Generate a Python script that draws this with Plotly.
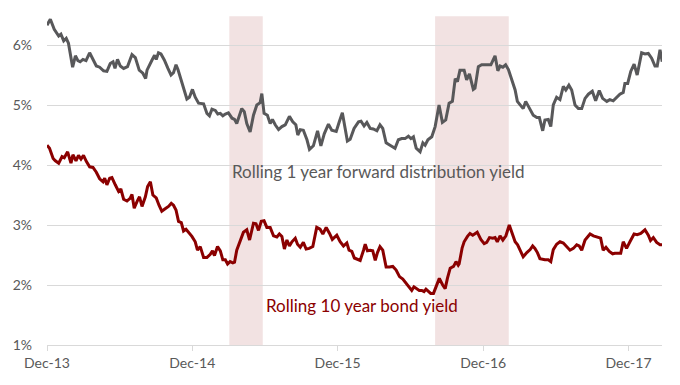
import numpy as np
import pandas as pd
import plotly.graph_objects as go

# Weeks elapsed since 1 Dec 2013 and yields in %
start_date = "2013-12-01"

dist_weeks = [0.0, 1.2, 2.6, 4.2, 5.0, 6.0, 6.9, 7.7, 9.2, 10.2, 11.1, 11.9, 12.9, 14.0, 15.3, 16.5, 17.7, 18.9,
              20.3, 21.5, 22.7, 23.7, 24.4, 25.3, 26.3, 27.5, 28.9, 30.5, 31.7, 33.1, 34.4, 35.4, 35.9, 37.7,
              38.6, 39.2, 40.0, 40.9, 42.1, 43.4, 44.5, 45.4, 46.3, 47.0, 47.8, 48.8, 50.2, 51.1, 52.2, 53.2,
              54.4, 56.2, 57.4, 58.3, 59.2, 60.4, 61.3, 62.2, 63.1, 64.0, 65.1, 66.4, 67.3, 68.1, 69.1, 69.9,
              70.8, 71.7, 72.9, 74.1, 75.3, 76.5, 77.1, 77.9, 79.1, 80.1, 80.9, 81.9, 83.1, 84.3, 85.5, 87.0,
              88.2, 89.3, 90.0, 90.9, 92.0, 93.3, 94.2, 95.6, 97.1, 98.3, 99.5, 101.0, 102.2, 103.8, 104.9,
              106.0, 107.0, 107.8, 108.8, 110.2, 111.8, 112.7, 113.8, 114.8, 116.0, 117.1, 118.4, 119.5, 120.5,
              121.7, 123.1, 124.9, 126.1, 127.3, 128.5, 129.7, 130.6, 131.5, 132.5, 133.9, 134.9, 135.7, 136.7,
              138.1, 139.3, 140.7, 141.9, 143.1, 144.3, 145.5, 146.5, 147.3, 148.2, 149.7, 150.6, 151.6, 153.0,
              153.6, 154.8, 156.0, 157.8, 159.3, 160.8, 161.8, 162.6, 163.6, 164.6, 165.6, 166.8, 168.0, 168.8,
              170.1, 170.9, 171.8, 173.4, 174.5, 175.8, 176.7, 177.9, 178.7, 179.9, 180.8, 181.7, 182.9, 184.1,
              185.3, 186.2, 187.3, 188.3, 189.5, 190.7, 191.9, 193.1, 194.3, 195.7, 196.9, 198.2, 199.4, 200.9,
              202.0, 203.2, 204.4, 205.6, 206.8, 207.4, 208.4, 209.5, 210.7, 211.8, 213.4, 214.6, 215.8, 217.0,
              218.2, 219.0, 220.0, 220.8]
dist_yield = [6.33, 6.43, 6.26, 6.15, 6.18, 6.07, 6.11, 6.03, 5.63, 5.82, 5.74, 5.72, 5.76, 5.74, 5.87, 5.75, 5.65,
              5.63, 5.57, 5.56, 5.69, 5.72, 5.61, 5.76, 5.65, 5.61, 5.64, 5.84, 5.79, 5.58, 5.53, 5.44, 5.58, 5.75,
              5.83, 5.76, 5.87, 5.85, 5.75, 5.61, 5.50, 5.54, 5.67, 5.59, 5.47, 5.28, 5.10, 5.13, 5.26, 5.13, 5.03,
              5.02, 4.86, 4.82, 4.93, 4.91, 4.85, 4.86, 4.82, 4.85, 4.87, 4.78, 4.76, 4.69, 4.83, 4.94, 4.89, 4.69,
              4.55, 4.83, 5.00, 5.04, 5.19, 4.86, 4.83, 4.69, 4.76, 4.67, 4.59, 4.64, 4.67, 4.81, 4.72, 4.67, 4.50,
              4.59, 4.58, 4.42, 4.26, 4.32, 4.57, 4.32, 4.52, 4.68, 4.58, 4.56, 4.72, 4.87, 4.61, 4.40, 4.43, 4.61,
              4.72, 4.73, 4.65, 4.71, 4.61, 4.60, 4.57, 4.67, 4.61, 4.37, 4.33, 4.28, 4.42, 4.44, 4.44, 4.48, 4.44,
              4.47, 4.28, 4.22, 4.37, 4.33, 4.42, 4.47, 4.64, 5.00, 4.71, 4.75, 5.03, 5.06, 5.44, 5.39, 5.58, 5.58,
              5.42, 5.52, 5.26, 5.28, 5.64, 5.67, 5.67, 5.67, 5.82, 5.57, 5.65, 5.63, 5.67, 5.59, 5.42, 5.25, 5.06,
              4.98, 4.94, 5.06, 4.92, 4.83, 4.79, 4.79, 4.57, 4.75, 4.76, 4.64, 5.00, 5.13, 5.09, 5.31, 5.25, 5.33,
              5.25, 5.00, 4.94, 4.94, 5.11, 5.18, 5.23, 5.07, 5.24, 5.11, 5.06, 5.09, 5.07, 5.13, 5.18, 5.21, 5.36,
              5.36, 5.56, 5.68, 5.50, 5.87, 5.85, 5.86, 5.78, 5.65, 5.65, 5.92, 5.72]

bond_weeks = [0.0, 0.9, 2.2, 3.0, 4.2, 5.4, 6.2, 7.4, 8.6, 9.3, 10.4, 11.3, 12.2, 13.1, 14.1, 15.3, 16.5, 17.7, 18.9,
              20.1, 20.7, 21.5, 22.5, 23.3, 24.5, 25.7, 26.5, 27.5, 28.7, 29.9, 30.5, 31.3, 32.3, 33.2, 34.1, 35.3,
              36.1, 37.1, 38.0, 39.2, 40.2, 41.2, 42.4, 43.6, 44.6, 45.4, 46.3, 47.2, 48.2, 49.0, 49.9, 50.8, 52.0,
              53.2, 54.0, 55.0, 56.2, 57.4, 58.6, 59.4, 60.1, 61.2, 62.2, 63.1, 64.0, 64.8, 65.7, 66.7, 67.3, 68.1,
              69.3, 70.5, 71.7, 72.7, 74.1, 75.0, 75.9, 76.9, 77.9, 78.9, 80.1, 81.3, 82.5, 83.4, 84.3, 85.2, 86.1,
              87.0, 87.9, 89.1, 89.9, 90.9, 92.0, 93.0, 94.1, 95.4, 96.8, 98.0, 99.0, 100.2, 101.4, 102.4, 104.0,
              105.2, 106.4, 107.6, 108.4, 109.4, 110.3, 111.4, 112.4, 113.6, 114.2, 115.0, 116.0, 116.9, 117.8,
              118.6, 119.5, 120.5, 121.7, 122.9, 124.1, 125.3, 126.5, 127.7, 128.9, 130.1, 130.9, 131.7, 132.7,
              133.6, 134.5, 135.3, 136.0, 136.9, 137.7, 138.7, 139.6, 140.8, 142.0, 142.9, 143.7, 144.7, 145.9,
              146.8, 147.6, 147.9, 149.0, 149.7, 150.9, 151.8, 152.8, 154.4, 155.7, 156.9, 157.8, 158.8, 160.0,
              160.8, 161.6, 162.6, 163.6, 164.7, 165.9, 167.1, 168.0, 168.9, 169.8, 170.9, 172.2, 173.4, 174.3,
              175.1, 176.0, 176.9, 178.7, 179.9, 180.8, 181.7, 182.9, 184.1, 185.3, 186.5, 187.7, 188.9, 190.1,
              191.0, 191.9, 193.1, 194.9, 196.1, 197.9, 198.7, 199.6, 200.6, 201.8, 203.0, 203.8, 205.0, 205.9,
              206.8, 208.0, 209.2, 210.7, 211.8, 213.1, 214.6, 215.8, 216.6, 217.6, 218.8, 220.0, 220.9]
bond_yield = [4.33, 4.28, 4.11, 4.07, 4.03, 4.14, 4.12, 4.22, 4.03, 4.17, 4.07, 4.16, 4.10, 4.16, 4.06, 3.97, 3.96,
              3.88, 3.77, 3.72, 3.78, 3.67, 3.78, 3.79, 3.67, 3.56, 3.60, 3.43, 3.40, 3.45, 3.51, 3.28, 3.39, 3.47,
              3.31, 3.47, 3.64, 3.72, 3.50, 3.45, 3.33, 3.23, 3.27, 3.31, 3.36, 3.33, 3.25, 3.06, 3.04, 2.90, 2.93,
              2.88, 2.81, 2.72, 2.58, 2.64, 2.46, 2.46, 2.51, 2.57, 2.49, 2.64, 2.57, 2.42, 2.42, 2.35, 2.39, 2.37,
              2.38, 2.58, 2.73, 2.88, 2.92, 2.75, 3.03, 3.02, 2.91, 3.06, 3.07, 2.96, 2.96, 2.82, 2.80, 2.85, 2.81,
              2.60, 2.75, 2.65, 2.72, 2.78, 2.68, 2.63, 2.71, 2.60, 2.61, 2.64, 2.96, 2.93, 2.85, 2.96, 2.86, 2.76,
              2.83, 2.72, 2.65, 2.70, 2.58, 2.56, 2.45, 2.43, 2.41, 2.58, 2.68, 2.57, 2.58, 2.57, 2.41, 2.54, 2.64,
              2.58, 2.30, 2.30, 2.31, 2.25, 2.14, 2.10, 2.03, 1.96, 1.91, 1.97, 1.93, 1.91, 1.91, 1.89, 1.93, 1.89,
              1.86, 1.86, 1.96, 2.11, 2.00, 1.94, 2.11, 2.28, 2.31, 2.39, 2.33, 2.35, 2.62, 2.72, 2.81, 2.86, 2.83,
              2.88, 2.76, 2.69, 2.71, 2.79, 2.78, 2.79, 2.72, 2.82, 2.75, 2.82, 3.00, 2.83, 2.72, 2.67, 2.57, 2.47,
              2.54, 2.59, 2.65, 2.61, 2.54, 2.44, 2.42, 2.42, 2.39, 2.59, 2.68, 2.72, 2.70, 2.64, 2.58, 2.61, 2.67,
              2.65, 2.58, 2.75, 2.85, 2.82, 2.79, 2.78, 2.58, 2.63, 2.56, 2.52, 2.53, 2.53, 2.53, 2.72, 2.61, 2.72,
              2.85, 2.84, 2.86, 2.92, 2.83, 2.74, 2.79, 2.71, 2.67, 2.67]

shade_periods = [("2015-03-04", "2015-05-27"), ("2016-08-02", "2017-02-03")]
tick_dates = ["2013-12-01", "2014-12-01", "2015-12-01", "2016-12-01", "2017-12-01"]
tick_labels = ["Dec-13", "Dec-14", "Dec-15", "Dec-16", "Dec-17"]
y_ticks = [1, 2, 3, 4, 5, 6]
y_tick_labels = ["1%", "2%", "3%", "4%", "5%", "6%"]

label_dist = "Rolling 1 year forward distribution yield"
label_bond = "Rolling 10 year bond yield"

GREY = "#58585a"
RED = "#8b0000"
FONT = "Lato"

t0 = pd.Timestamp(start_date)
dist_dates = t0 + pd.to_timedelta(np.array(dist_weeks) * 7, unit="D")
bond_dates = t0 + pd.to_timedelta(np.array(bond_weeks) * 7, unit="D")

fig = go.Figure()
fig.add_trace(go.Scatter(x=dist_dates, y=dist_yield, mode="lines",
                         line=dict(color=GREY, width=3), showlegend=False, hoverinfo="skip"))
fig.add_trace(go.Scatter(x=bond_dates, y=bond_yield, mode="lines",
                         line=dict(color=RED, width=3), showlegend=False, hoverinfo="skip"))

for a, b in shade_periods:
    fig.add_shape(type="rect", xref="x", yref="y", x0=a, x1=b, y0=1.0, y1=6.48,
                  fillcolor="#f2e2e2", line=dict(width=0), layer="below")

fig.add_annotation(x="2016-03-12", y=3.89, xref="x", yref="y", text=label_dist, showarrow=False,
                   font=dict(family=FONT, size=17, color="#595959"))
fig.add_annotation(x="2016-01-31", y=1.655, xref="x", yref="y", text=label_bond, showarrow=False,
                   font=dict(family=FONT, size=17, color=RED))

fig.update_layout(
    width=680, height=385,
    margin=dict(l=47, r=18, t=15, b=40, autoexpand=False),
    paper_bgcolor="white", plot_bgcolor="white",
    font=dict(family=FONT, size=14, color="#595959"),
    xaxis=dict(type="date", range=["2013-12-01", "2018-02-23"], tickvals=tick_dates, ticktext=tick_labels,
               showgrid=False, showline=True, linecolor="#d9d9d9", linewidth=1,
               ticks="outside", ticklen=5, tickcolor="#d9d9d9", zeroline=False,
               tickfont=dict(family=FONT, size=14, color="#595959")),
    yaxis=dict(range=[1, 6.5], tickvals=y_ticks, ticktext=y_tick_labels, showgrid=True,
               gridcolor="#d9d9d9", gridwidth=1, zeroline=False, showline=False, ticks="",
               ticklabelstandoff=14, tickfont=dict(family=FONT, size=14, color="#595959")),
)

fig.write_html("out.html", post_script="document.body.style.margin='0';",
               config={"displayModeBar": False})
